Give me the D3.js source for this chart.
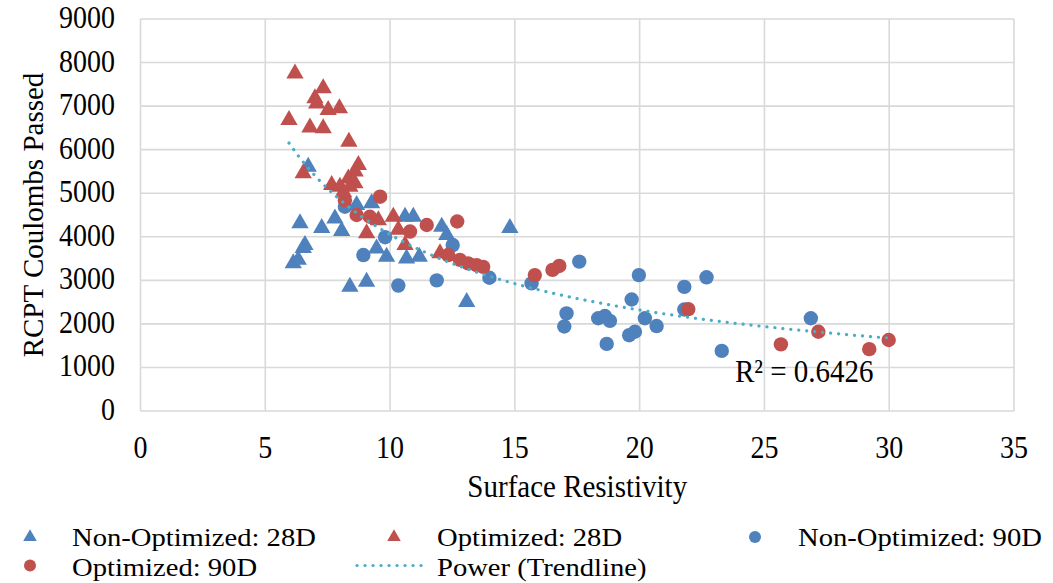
<!DOCTYPE html>
<html>
<head>
<meta charset="utf-8">
<script src="https://cdn.jsdelivr.net/npm/d3@7"></script>
<style>
  html, body { margin: 0; padding: 0; background: #fff; }
  svg text { font-family: "Liberation Serif", "Times New Roman", serif; fill: #000; }
</style>
</head>
<body>
<svg id="chart" width="1053" height="583"></svg>
<script>
// Surface resistivity (x) vs RCPT coulombs passed (y), four series
const nonOpt28X = [6.72, 6.39, 6.59, 6.52, 6.12, 6.32, 7.26, 7.79, 8.06, 8.66, 9.26, 10.6, 10.93, 12.07, 12.27, 14.8, 9.46, 9.86, 10.66, 11.17, 8.39, 9.06, 13.07];
const nonOpt28Y = [5610, 4310, 3810, 3740, 3390, 3470, 4200, 4420, 4130, 4730, 4770, 4460, 4460, 4230, 4040, 4200, 3730, 3540, 3500, 3540, 2850, 2970, 2500];

const opt28X = [6.19, 7.32, 6.99, 7.06, 7.52, 7.97, 5.95, 6.79, 7.32, 8.35, 8.73, 8.6, 6.52, 7.66, 8.33, 8.59, 8.39, 7.99, 8.13, 9.53, 10.13, 10.33, 9.06, 10.6, 12.0];
const opt28Y = [7750, 7410, 7180, 7060, 6910, 6950, 6680, 6510, 6490, 6180, 5650, 5500, 5460, 5190, 5340, 5230, 5150, 5150, 5030, 4380, 4460, 4160, 4080, 3810, 3620];

const nonOpt90X = [8.19, 9.8, 8.93, 10.33, 11.87, 12.51, 13.98, 15.67, 17.58, 17.07, 16.98, 18.34, 18.61, 18.81, 18.68, 19.68, 19.97, 19.58, 19.81, 20.21, 20.68, 21.79, 21.79, 22.68, 23.29, 26.86];
const nonOpt90Y = [4690, 3990, 3580, 2880, 3000, 3810, 3060, 2930, 3430, 2240, 1940, 2130, 2180, 2070, 1540, 2560, 3120, 1740, 1820, 2130, 1950, 2850, 2330, 3070, 1380, 2130];

const opt90X = [9.6, 8.19, 8.66, 9.19, 11.47, 10.8, 12.69, 12.33, 12.8, 13.13, 13.47, 13.73, 15.8, 16.51, 16.78, 21.95, 25.66, 27.16, 29.2, 29.98];
const opt90Y = [4920, 4840, 4500, 4460, 4270, 4120, 4350, 3580, 3470, 3390, 3350, 3310, 3120, 3240, 3330, 2340, 1530, 1820, 1420, 1630];

const seriesNames = ["Non-Optimized: 28D", "Optimized: 28D", "Non-Optimized: 90D", "Optimized: 90D"];
const xTicks = [0, 5, 10, 15, 20, 25, 30, 35];
const yTicks = [0, 1000, 2000, 3000, 4000, 5000, 6000, 7000, 8000, 9000];
const rSquaredLabel = "R² = 0.6426";

const BLUE = "#4f81bd", RED = "#c0504d", TREND = "#4bacc6", GRID = "#d9d9d9";
const TEXT_STRETCH = 1.1; // Times glyphs here run slightly tall

const svg = d3.select("#chart");
const x = d3.scaleLinear().domain([0, 35]).range([140.5, 1014]);
const y = d3.scaleLinear().domain([0, 9000]).range([411, 19]);

// Horizontal text placed at a baseline point with an optional x/y stretch
function label(parent, px, py, str, size, anchor, sx, sy) {
  return parent.append("text")
    .attr("transform", `translate(${px},${py}) scale(${sx || 1},${sy || TEXT_STRETCH})`)
    .attr("font-size", size)
    .attr("text-anchor", anchor || "start")
    .text(str);
}

// Gridlines
svg.append("g").selectAll("line").data(yTicks).join("line")
  .attr("x1", x(0)).attr("x2", x(35))
  .attr("y1", d => y(d)).attr("y2", d => y(d))
  .attr("stroke", GRID).attr("stroke-width", 1.6);
svg.append("g").selectAll("line").data(xTicks).join("line")
  .attr("y1", y(0)).attr("y2", y(9000))
  .attr("x1", d => x(d)).attr("x2", d => x(d))
  .attr("stroke", GRID).attr("stroke-width", 1.6);

// Tick labels
const fmt = d3.format("d");
const yLab = svg.append("g");
yTicks.forEach(t => label(yLab, 115, y(t) + 9, fmt(t), 28, "end"));
const xLab = svg.append("g");
xTicks.forEach(t => label(xLab, x(t), 458, fmt(t), 28, "middle"));

// Axis titles
label(svg, x(17.5), 497, "Surface Resistivity", 29, "middle");
svg.append("text").attr("transform", `translate(43,${(y(0) + y(9000)) / 2}) rotate(-90)`)
  .attr("text-anchor", "middle").attr("font-size", 29).text("RCPT Coulombs Passed");

const tri = d3.symbol().type(d3.symbolTriangle);
const g = svg.append("g");

function drawTriangles(xs, ys, color) {
  g.append("g").selectAll("path").data(xs.map((v, i) => [v, ys[i]])).join("path")
    .attr("d", tri.size(130)())
    .attr("transform", d => `translate(${x(d[0])},${y(d[1])})`)
    .attr("fill", color);
}
function drawCircles(xs, ys, color) {
  g.append("g").selectAll("circle").data(xs.map((v, i) => [v, ys[i]])).join("circle")
    .attr("cx", d => x(d[0])).attr("cy", d => y(d[1])).attr("r", 7.2)
    .attr("fill", color);
}
drawTriangles(nonOpt28X, nonOpt28Y, BLUE);
drawTriangles(opt28X, opt28Y, RED);
drawCircles(nonOpt90X, nonOpt90Y, BLUE);
drawCircles(opt90X, opt90Y, RED);

// Power trendline y = a * x^b fitted on log-log over all points
const allX = [].concat(nonOpt28X, opt28X, nonOpt90X, opt90X);
const allY = [].concat(nonOpt28Y, opt28Y, nonOpt90Y, opt90Y);
const lx = allX.map(Math.log), ly = allY.map(Math.log);
const mx = d3.mean(lx), my = d3.mean(ly);
const b = d3.sum(lx, (v, i) => (v - mx) * (ly[i] - my)) / d3.sum(lx, v => (v - mx) * (v - mx));
const a = Math.exp(my - b * mx);
const [xmin, xmax] = d3.extent(allX);
const trendPts = d3.range(0, 201).map(i => {
  const xv = xmin + (xmax - xmin) * i / 200;
  return [xv, a * Math.pow(xv, b)];
});
svg.append("path").datum(trendPts)
  .attr("d", d3.line().x(d => x(d[0])).y(d => y(d[1])))
  .attr("fill", "none").attr("stroke", TREND).attr("stroke-width", 3.2)
  .attr("stroke-linecap", "round").attr("stroke-dasharray", "0.1 7.9");

label(svg, 735, 382, rSquaredLabel, 29);

// Legend: two rows, wide-set type so the rows stay clear of each other
const legend = svg.append("g");
const ROW1 = 537, ROW2 = 565.5;
const legendItems = [
  { name: seriesNames[0], kind: "tri", color: BLUE, mx: 30, tx: 72, cy: ROW1, base: 545.5 },
  { name: seriesNames[1], kind: "tri", color: RED, mx: 394, tx: 437, cy: ROW1, base: 545.5 },
  { name: seriesNames[2], kind: "circle", color: BLUE, mx: 755, tx: 798, cy: ROW1, base: 545.5 },
  { name: seriesNames[3], kind: "circle", color: RED, mx: 30, tx: 72, cy: ROW2, base: 575.5 },
  { name: "Power (Trendline)", kind: "line", color: TREND, mx: 390, tx: 437, cy: ROW2, base: 575.5 }
];
legendItems.forEach(it => {
  if (it.kind === "tri") {
    legend.append("path").attr("d", tri.size(80)())
      .attr("transform", `translate(${it.mx},${it.cy})`).attr("fill", it.color);
  } else if (it.kind === "circle") {
    legend.append("circle").attr("cx", it.mx).attr("cy", it.cy).attr("r", 6).attr("fill", it.color);
  } else {
    legend.append("line").attr("x1", 357).attr("x2", 426).attr("y1", it.cy).attr("y2", it.cy)
      .attr("stroke", it.color).attr("stroke-width", 3.2)
      .attr("stroke-linecap", "round").attr("stroke-dasharray", "0.1 7.9");
  }
  label(legend, it.tx, it.base, it.name, 26, "start", 1.1, 1);
});
</script>
</body>
</html>
